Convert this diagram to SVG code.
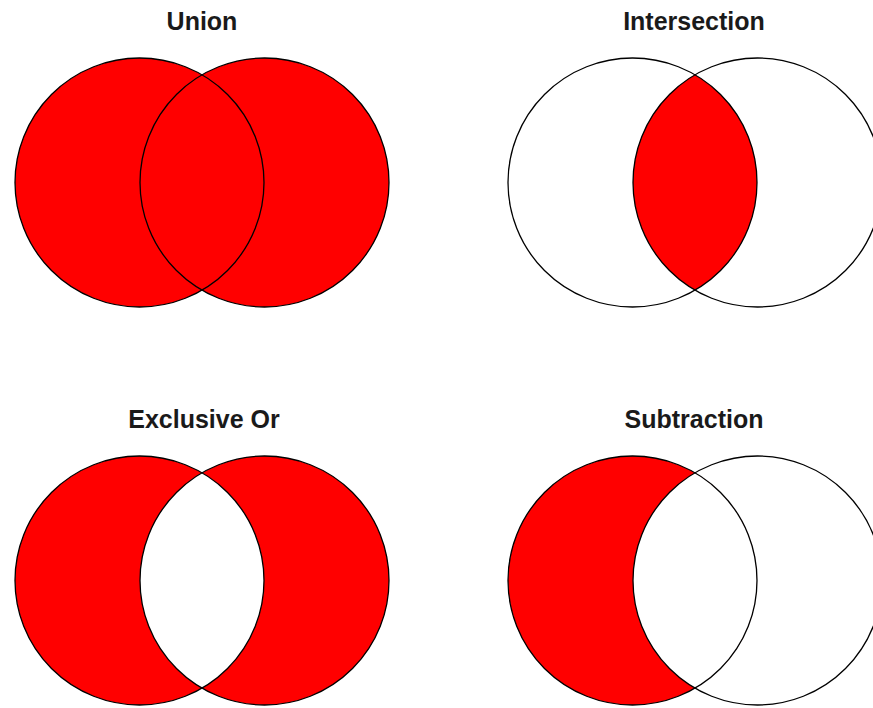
<svg xmlns="http://www.w3.org/2000/svg" width="873" height="708" viewBox="0 0 873 708">
<defs>
<style>
.title{font-family:"Liberation Sans",Arial,sans-serif;font-weight:bold;font-size:25px;fill:#1a1a1a;text-anchor:middle}
.red{fill:#ff0000;stroke:none}
.white{fill:#ffffff;stroke:none}
.ol{fill:none;stroke:#000;stroke-width:1.3}
</style>
</defs>
<rect width="873" height="708" fill="#fff"/>
<g id="union">
<text class="title" x="202" y="30">Union</text>
<circle class="red" cx="139.5" cy="182.5" r="124.5"/>
<circle class="red" cx="264.5" cy="182.5" r="124.5"/>
<circle class="ol" cx="139.5" cy="182.5" r="124.5"/>
<circle class="ol" cx="264.5" cy="182.5" r="124.5"/>
</g>
<g id="intersection">
<text class="title" x="694" y="30">Intersection</text>
<path class="red" d="M695,74.83 A124.5,124.5 0 0 1 695,290.17 A124.5,124.5 0 0 1 695,74.83 Z"/>
<circle class="ol" cx="632.5" cy="182.5" r="124.5"/>
<circle class="ol" cx="757.5" cy="182.5" r="124.5"/>
</g>
<g id="exclusive-or">
<text class="title" x="204" y="428">Exclusive Or</text>
<circle class="red" cx="139.5" cy="580.5" r="124.5"/>
<circle class="red" cx="264.5" cy="580.5" r="124.5"/>
<path class="white" d="M202,472.83 A124.5,124.5 0 0 1 202,688.17 A124.5,124.5 0 0 1 202,472.83 Z"/>
<circle class="ol" cx="139.5" cy="580.5" r="124.5"/>
<circle class="ol" cx="264.5" cy="580.5" r="124.5"/>
</g>
<g id="subtraction">
<text class="title" x="694" y="428">Subtraction</text>
<circle class="red" cx="632.5" cy="580.5" r="124.5"/>
<path class="white" d="M695,472.83 A124.5,124.5 0 0 1 695,688.17 A124.5,124.5 0 0 1 695,472.83 Z"/>
<circle class="ol" cx="632.5" cy="580.5" r="124.5"/>
<circle class="ol" cx="757.5" cy="580.5" r="124.5"/>
</g>
<g id="connectors"></g>
</svg>
